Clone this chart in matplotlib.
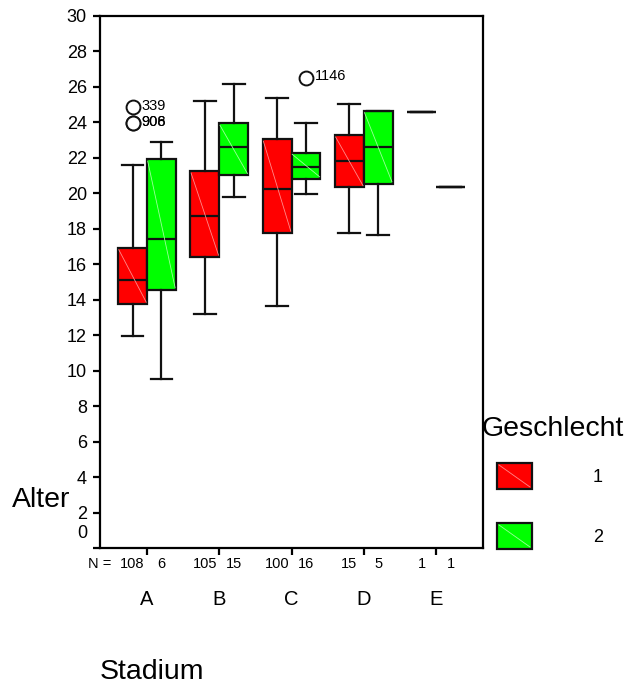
import numpy as np
import matplotlib
matplotlib.use("Agg")
from matplotlib import pyplot as plt
from matplotlib.patches import Rectangle

plt.rcParams['font.family'] = ['Liberation Sans', 'DejaVu Sans']

# Data (Alter by Stadium and Geschlecht)
stadien = ['A', 'B', 'C', 'D', 'E']
n_m = [108, 105, 100, 15, 1]
n_w = [6, 15, 16, 5, 1]

# group 1 (red): q1, median, q3, lower whisker, upper whisker
g1_q1 = [13.76, 16.41, 17.77, 20.33, 24.56]
g1_med = [15.10, 18.73, 20.23, 21.81, 24.56]
g1_q3 = [16.92, 21.25, 23.05, 23.28, 24.56]
g1_lo = [11.94, 13.22, 13.65, 17.75, 24.56]
g1_hi = [21.58, 25.19, 25.40, 25.01, 24.56]
g1_out = [[24.87, 23.94, 23.94], [], [], [], []]
g1_out_lab = [['339', '906', '908'], [], [], [], []]

# group 2 (green)
g2_q1 = [14.57, 21.02, 20.83, 20.55, 20.34]
g2_med = [17.45, 22.64, 21.47, 22.64, 20.34]
g2_q3 = [21.92, 23.94, 22.30, 24.65, 20.34]
g2_lo = [9.53, 19.80, 19.99, 17.65, 20.34]
g2_hi = [22.87, 26.14, 23.94, 24.65, 20.34]
g2_out = [[], [], [26.53], [], []]
g2_out_lab = [[], [], ['1146'], [], []]

farben = ['#ff0000', '#00ff00']
diag = ['#ff8a8a', '#9cff9c']

W, H = 641, 686
fig = plt.figure(figsize=(W / 100, H / 100), dpi=100)
ax = fig.add_axes([100 / W, 1 - 548 / H, 383 / W, 532 / H])

pos = np.arange(1, len(stadien) + 1)
gruppen = [
    (g1_q1, g1_med, g1_q3, g1_lo, g1_hi, g1_out, g1_out_lab, -0.2),
    (g2_q1, g2_med, g2_q3, g2_lo, g2_hi, g2_out, g2_out_lab, 0.2),
]

for gi, (q1, med, q3, lo, hi, out, lab, off) in enumerate(gruppen):
    stats = []
    for i in range(len(stadien)):
        stats.append(dict(q1=q1[i], med=med[i], q3=q3[i],
                          whislo=lo[i], whishi=hi[i], fliers=out[i]))
    ax.bxp(stats, positions=pos + off, widths=0.4, capwidths=0.3,
           patch_artist=True, manage_ticks=False,
           boxprops=dict(facecolor=farben[gi], edgecolor='#111111', linewidth=1.6),
           medianprops=dict(color='#111111', linewidth=1.6),
           whiskerprops=dict(color='#111111', linewidth=1.6),
           capprops=dict(color='#111111', linewidth=1.6),
           flierprops=dict(marker='o', markerfacecolor='white', markeredgecolor='#111111',
                           markersize=10, markeredgewidth=1.4))
    # faint diagonal inside each box (SPSS look)
    for i in range(len(stadien)):
        if q3[i] > q1[i]:
            ax.plot([pos[i] + off - 0.19, pos[i] + off + 0.19], [q3[i] - 0.1, q1[i] + 0.1],
                    color=diag[gi], lw=0.6, zorder=3)
        for v, t in zip(out[i], lab[i]):
            ax.annotate(t, xy=(pos[i] + off, v), xytext=(6.3, -2.0), textcoords='offset points',
                        ha='left', va='baseline', fontsize=10.5)

ax.set_xlim(0.35, 5.65)
ax.set_ylim(0, 30)
for s in ax.spines.values():
    s.set_linewidth(1.6)

yt = np.arange(0, 31, 2)
ax.set_yticks(yt)
ax.set_yticklabels(['' if v == 0 else str(v) for v in yt])
ax.tick_params(axis='y', length=5, width=1.6, pad=4.5, labelsize=13)
ax.annotate('0', xy=(0, 0), xycoords=('axes fraction', 'data'), xytext=(-9.2, 10.5),
            textcoords='offset points', ha='right', va='center', fontsize=13)

ax.set_xticks(pos)
ax.set_xticklabels([])
ax.tick_params(axis='x', length=5, width=1.6)

# N row and category labels under the axis
ax.annotate('N =', xy=(0, 0), xycoords='axes fraction', xytext=(0, -14.5),
            textcoords='offset points', ha='center', va='baseline', fontsize=10.5)
for i, s in enumerate(stadien):
    ax.annotate(str(n_m[i]), xy=(pos[i] - 0.2, 0), xycoords=('data', 'axes fraction'),
                xytext=(0, -14.5), textcoords='offset points', ha='center', va='baseline', fontsize=10.5)
    ax.annotate(str(n_w[i]), xy=(pos[i] + 0.2, 0), xycoords=('data', 'axes fraction'),
                xytext=(0, -14.5), textcoords='offset points', ha='center', va='baseline', fontsize=10.5)
    ax.annotate(s, xy=(pos[i], 0), xycoords=('data', 'axes fraction'),
                xytext=(0, -41), textcoords='offset points', ha='center', va='baseline', fontsize=14.5)

fig.text(12 / W, 1 - 507 / H, 'Alter', ha='left', va='baseline', fontsize=20.5)
fig.text(100 / W, 1 - 679 / H, 'Stadium', ha='left', va='baseline', fontsize=20.5)

# legend
fig.text(482 / W, 1 - 436 / H, 'Geschlecht', ha='left', va='baseline', fontsize=20.5)
for gi, (y0, t) in enumerate([(463, '1'), (523, '2')]):
    fig.add_artist(Rectangle((497 / W, 1 - (y0 + 26) / H), 35 / W, 26 / H, transform=fig.transFigure,
                             facecolor=farben[gi], edgecolor='#111111', linewidth=1.6))
    fig.add_artist(plt.Line2D([499 / W, 530 / W], [1 - (y0 + 2) / H, 1 - (y0 + 24) / H],
                              transform=fig.transFigure, color=diag[gi], lw=0.6))
    fig.text(598 / W, 1 - (y0 + 19) / H, t, ha='center', va='baseline', fontsize=13)

fig.savefig('out.png', dpi=100)
